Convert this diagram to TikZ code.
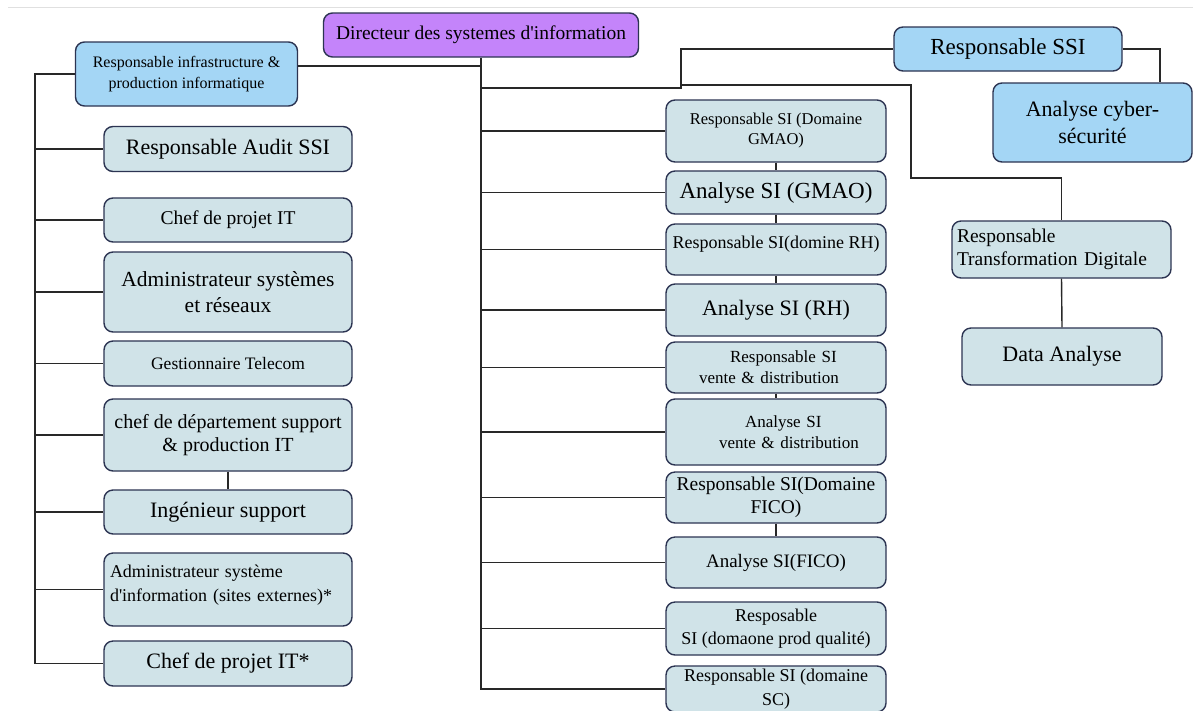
\documentclass[tikz,border=0pt]{standalone}
\usepackage{fontspec}
\setmainfont{Liberation Serif}
\usetikzlibrary{calc}

\definecolor{dsipurple}{RGB}{196,132,250}
\definecolor{ssiblue}{RGB}{164,214,245}
\definecolor{siblue}{RGB}{208,227,232}
\definecolor{edgecol}{RGB}{44,52,82}
\definecolor{wirecol}{RGB}{40,40,40}

% font size with explicit line spacing
\newcommand{\fsz}[2]{\fontsize{#1}{#2}\selectfont}
% straight apostrophe
\newcommand{\apos}{\textquotesingle}

\tikzset{
  orgbox/.style={draw=edgecol, line width=1.4pt, rounded corners=9pt,
                 inner sep=0pt, align=center, text=black},
  dsibox/.style={orgbox, fill=dsipurple},
  ssibox/.style={orgbox, fill=ssiblue},
  sibox/.style={orgbox, fill=siblue},
  lefttxt/.style={inner sep=0pt, align=left, text=black},
  wire/.style={draw=wirecol, line width=1.4pt},
}

\begin{document}
\begin{tikzpicture}[x=1pt, y=-1pt]
\useasboundingbox (0,0) rectangle (1193,710);
\fill[white] (0,0) rectangle (1193,710);
\draw[black!12, line width=1pt] (8,7) -- (1193,7);

% ---- top of the hierarchy
\node[dsibox, minimum width=315pt, minimum height=44pt, font=\fsz{19.5}{23}]
  (dir) at (481,35) {Directeur des systemes d\apos information};
\node[ssibox, minimum width=222pt, minimum height=64pt, font=\fsz{16}{21}]
  (infra) at (186.5,74) {Responsable infrastructure \&\\production informatique};

% ---- infrastructure column
\node[sibox, minimum width=248pt, minimum height=45pt, font=\fsz{22}{26}]
  (audit) at (228,149) {Responsable Audit SSI};
\node[sibox, minimum width=248pt, minimum height=44pt, font=\fsz{19.5}{23}]
  (chefit) at (228,220) {Chef de projet IT};
\node[sibox, minimum width=248pt, minimum height=80pt, font=\fsz{21.5}{26}]
  (adminsr) at (228,292) {Administrateur systèmes\\et réseaux};
\node[sibox, minimum width=248pt, minimum height=45pt, font=\fsz{17.5}{21}]
  (telecom) at (228,363.5) {Gestionnaire Telecom};
\node[sibox, minimum width=248pt, minimum height=72pt, font=\fsz{20}{23}]
  (chefdept) at (228,435) {chef de département support\\\& production IT};
\node[sibox, minimum width=248pt, minimum height=44pt, font=\fsz{22}{26}]
  (inge) at (228,512) {Ingénieur support};
\node[sibox, minimum width=248pt, minimum height=73pt] (adminext) at (228,589.5) {};
\node[lefttxt, text width=236pt, font=\fsz{18}{24}] (adminext-t)
  at ([yshift=4.5pt]adminext.center)
  {Administrateur système\\d\apos information (sites externes)*};
\node[sibox, minimum width=248pt, minimum height=45pt, font=\fsz{22}{26}]
  (cpstar) at (228,663.5) {Chef de projet IT*};

% ---- SI domains column
\node[sibox, minimum width=220pt, minimum height=62pt, font=\fsz{16.5}{20}]
  (gmao) at (776,131) {Responsable SI (Domaine\\GMAO)};
\node[sibox, minimum width=220pt, minimum height=43pt, font=\fsz{23}{27}]
  (agmao) at (776,192.5) {Analyse SI (GMAO)};
\node[sibox, minimum width=220pt, minimum height=51pt] (rhr) at (776,249.5) {};
\node[inner sep=0pt, font=\fsz{18}{22}] (rhr-t) at ([yshift=5pt]rhr.center)
  {Responsable SI(domine RH)};
\node[sibox, minimum width=220pt, minimum height=52pt, font=\fsz{22}{26}]
  (arh) at (776,310) {Analyse SI (RH)};
\node[sibox, minimum width=220pt, minimum height=51pt] (vr) at (776,367.5) {};
\node[lefttxt, text width=200pt, font=\fsz{17}{21}] (vr-t) at (vr.center)
  {\hspace*{54pt}Responsable SI\\\hspace*{23pt}vente \& distribution};
\node[sibox, minimum width=220pt, minimum height=66pt] (av) at (776,432) {};
\node[lefttxt, text width=200pt, font=\fsz{17}{21}] (av-t) at (av.center)
  {\hspace*{69pt}Analyse SI\\\hspace*{43pt}vente \& distribution};
\node[sibox, minimum width=220pt, minimum height=51pt, font=\fsz{19.5}{23}]
  (ficor) at (776,497.5) {Responsable SI(Domaine\\FICO)};
\node[sibox, minimum width=220pt, minimum height=51pt, font=\fsz{19}{23}]
  (afico) at (776,562.5) {Analyse SI(FICO)};
\node[sibox, minimum width=220pt, minimum height=53pt, font=\fsz{18}{23}]
  (pq) at (776,628.5) {Resposable\\SI (domaone prod qualité)};
\node[sibox, minimum width=220pt, minimum height=46pt, font=\fsz{18}{24}]
  (sc) at (776,689) {Responsable SI (domaine\\SC)};

% ---- security and digital branch
\node[ssibox, minimum width=228pt, minimum height=44pt, font=\fsz{23}{27}]
  (ssi) at (1008,49) {Responsable SSI};
\node[ssibox, minimum width=199pt, minimum height=79pt, font=\fsz{22}{27}]
  (cyber) at (1092.5,122.5) {Analyse cyber-\\sécurité};
\node[sibox, minimum width=219pt, minimum height=57pt] (transfo) at (1061.5,249.5) {};
\node[lefttxt, text width=209pt, font=\fsz{19.5}{23}] (transfo-t) at (transfo.center)
  {Responsable\\Transformation Digitale};
\node[sibox, minimum width=200pt, minimum height=57pt, font=\fsz{22}{26}]
  (data) at (1062,356.5) {Data Analyse};

% ---- connectors: main trunk
\draw[wire] (dir.south) -- (dir.south |- sc.west) -- (sc.west);
\foreach \n in {gmao,agmao,rhr,arh,vr,av,ficor,afico,pq}
  \draw[wire] (dir.south |- \n.west) -- (\n.west);
\draw[wire] ([yshift=8pt]infra.east) -| (dir.south);

% ---- connectors: infrastructure trunk
\coordinate (lt) at (35,74);
\draw[wire] (infra.west) -- (lt) -- (lt |- cpstar.west) -- (cpstar.west);
\foreach \n in {audit,chefit,adminsr,telecom,chefdept,inge,adminext}
  \draw[wire] (lt |- \n.west) -- (\n.west);

% ---- connectors: pairs in the columns
\draw[wire] (chefdept.south) -- (inge.north);
\draw[wire] (gmao.south) -- (agmao.north);
\draw[wire] (agmao.south) -- (rhr.north);
\draw[wire] (rhr.south) -- (arh.north);
\draw[wire] (vr.south) -- (av.north);
\draw[wire] (ficor.south) -- (afico.north);

% ---- connectors: security and digital branch
\coordinate (ja) at (681,88);
\coordinate (jb) at (681,85);
\coordinate (jc) at (911,178);
\coordinate (jd) at (1160,49);
\draw[wire] (dir.south |- ja) -- (ja) |- (ssi.west);
\draw[wire] (jb) -| (jc) -| (transfo.north);
\draw[wire] (ssi.east) -- (jd) -- (jd |- cyber.north);
\draw[wire] (transfo.south) -- (data.north);
\end{tikzpicture}
\end{document}
